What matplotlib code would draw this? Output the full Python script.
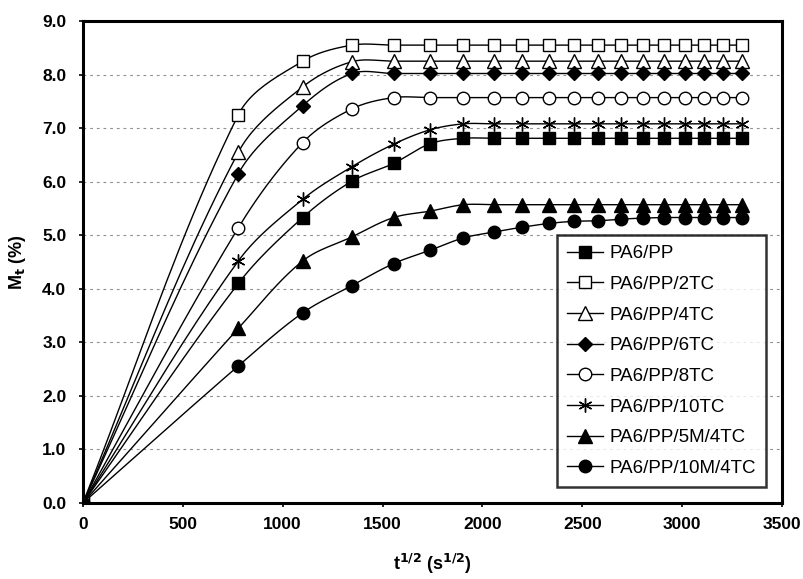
import matplotlib
matplotlib.use("Agg")
import matplotlib.pyplot as plt
import numpy as np

plt.rcParams['font.family'] = ['Liberation Sans', 'DejaVu Sans']

# square root of time (s^1/2), one point a week
t_sqrt = [0, 778, 1100, 1347, 1555, 1739, 1905, 2058, 2200, 2333,
          2459, 2579, 2694, 2804, 2910, 3012, 3111, 3207, 3299]

pa6_pp = [0, 4.10, 5.33, 6.01, 6.34, 6.71, 6.81, 6.81, 6.81, 6.81,
          6.81, 6.81, 6.81, 6.81, 6.81, 6.81, 6.81, 6.81, 6.81]
pa6_pp_2tc = [0, 7.25, 8.25, 8.55, 8.55, 8.55, 8.55, 8.55, 8.55, 8.55,
              8.55, 8.55, 8.55, 8.55, 8.55, 8.55, 8.55, 8.55, 8.55]
pa6_pp_4tc = [0, 6.55, 7.77, 8.24, 8.25, 8.25, 8.25, 8.25, 8.25, 8.25,
              8.25, 8.25, 8.25, 8.25, 8.25, 8.25, 8.25, 8.25, 8.25]
pa6_pp_6tc = [0, 6.15, 7.42, 8.02, 8.02, 8.02, 8.02, 8.02, 8.02, 8.02,
              8.02, 8.02, 8.02, 8.02, 8.02, 8.02, 8.02, 8.02, 8.02]
pa6_pp_8tc = [0, 5.14, 6.73, 7.36, 7.57, 7.57, 7.57, 7.57, 7.57, 7.57,
              7.57, 7.57, 7.57, 7.57, 7.57, 7.57, 7.57, 7.57, 7.57]
pa6_pp_10tc = [0, 4.52, 5.67, 6.28, 6.70, 6.97, 7.08, 7.08, 7.08, 7.08,
               7.08, 7.08, 7.08, 7.08, 7.08, 7.08, 7.08, 7.08, 7.08]
pa6_pp_5m4tc = [0, 3.26, 4.52, 4.97, 5.33, 5.45, 5.57, 5.57, 5.57, 5.57,
                5.57, 5.57, 5.57, 5.57, 5.57, 5.57, 5.57, 5.57, 5.57]
pa6_pp_10m4tc = [0, 2.56, 3.55, 4.06, 4.47, 4.72, 4.95, 5.06, 5.15, 5.22,
                 5.26, 5.27, 5.30, 5.32, 5.33, 5.33, 5.33, 5.33, 5.33]

labels = ['PA6/PP', 'PA6/PP/2TC', 'PA6/PP/4TC', 'PA6/PP/6TC',
          'PA6/PP/8TC', 'PA6/PP/10TC', 'PA6/PP/5M/4TC', 'PA6/PP/10M/4TC']
series = [pa6_pp, pa6_pp_2tc, pa6_pp_4tc, pa6_pp_6tc,
          pa6_pp_8tc, pa6_pp_10tc, pa6_pp_5m4tc, pa6_pp_10m4tc]

# marker, face colour, size
styles = [('s', 'black', 8.5),
          ('s', 'white', 8.5),
          ('^', 'white', 9.5),
          ('D', 'black', 7),
          ('o', 'white', 9),
          ((6, 2, 0), 'black', 10),
          ('^', 'black', 9.5),
          ('o', 'black', 9)]

XMAX, YMAX = 3500, 9.0
# pixels per data unit, so the smoothing is done in screen space
KX, KY = 699 / XMAX, 482 / YMAX


def smooth(x, y, n=24):
    # spreadsheet-style smoothed line: bezier segments, control points
    # along the neighbour chord, a third of the segment length away
    p = np.column_stack([np.asarray(x, float) * KX, np.asarray(y, float) * KY])
    m = len(p)
    tang = np.zeros_like(p)
    for i in range(m):
        a = p[max(i - 1, 0)]
        b = p[min(i + 1, m - 1)]
        d = b - a
        nrm = np.hypot(*d)
        tang[i] = d / nrm if nrm > 0 else 0
    s = np.linspace(0, 1, n)[:, None]
    out = []
    for i in range(m - 1):
        p0, p3 = p[i], p[i + 1]
        L = np.hypot(*(p3 - p0))
        c1 = p0 + tang[i] * L / 3
        c2 = p3 - tang[i + 1] * L / 3
        b = (1 - s) ** 3 * p0 + 3 * (1 - s) ** 2 * s * c1 \
            + 3 * (1 - s) * s ** 2 * c2 + s ** 3 * p3
        out.append(b)
    out = np.vstack(out)
    return out[:, 0] / KX, out[:, 1] / KY


fig = plt.figure(figsize=(8.04, 5.79), dpi=100)
ax = fig.add_axes([0.1032, 0.1313, 0.8694, 0.8324])

handles = []
for vals, lab, (m, fc, ms) in zip(series, labels, styles):
    sx, sy = smooth(t_sqrt, vals)
    ax.plot(sx, sy, color='black', lw=1.0, zorder=3)
    ax.plot(t_sqrt, vals, ls='none', marker=m, ms=ms, mfc=fc, mec='black',
            mew=1.0, zorder=4)
    h, = ax.plot([], [], color='black', lw=1.0, marker=m, ms=ms, mfc=fc,
                 mec='black', mew=1.0, label=lab)
    handles.append(h)

ax.set_xlim(0, XMAX)
ax.set_ylim(0, YMAX)
ax.set_xticks(np.arange(0, 3501, 500))
ax.set_yticks(np.arange(0, 9.01, 1.0))
ax.set_yticklabels([f'{v:.1f}' for v in np.arange(0, 9.01, 1.0)])
ax.tick_params(direction='out', length=3, width=1.2, labelsize=12.5)
ax.tick_params(axis='y', pad=9)
ax.tick_params(axis='x', pad=7)
for lab in ax.get_xticklabels() + ax.get_yticklabels():
    lab.set_fontweight('bold')

ax.yaxis.grid(True, color='#909090', lw=0.8, ls=(0, (2.5, 3.5)))
ax.set_axisbelow(True)
for sp in ax.spines.values():
    sp.set_linewidth(2.2)

ax.set_xlabel('t$^{\\mathbf{1/2}}$ (s$^{\\mathbf{1/2}}$)', fontsize=13,
              fontweight='bold')
ax.xaxis.set_label_coords(0.5, -0.102)
ax.set_ylabel('M$_{\\mathbf{t}}$ (%)', fontsize=13, fontweight='bold')
ax.yaxis.set_label_coords(-0.078, 0.5)

leg = ax.legend(handles=handles, loc='lower left',
                bbox_to_anchor=(0.678, 0.033), fontsize=13.5,
                frameon=True, fancybox=False, edgecolor='black',
                handlelength=1.9, handletextpad=0.35, labelspacing=0.72,
                borderpad=0.55, borderaxespad=0)
leg.get_frame().set_linewidth(1.8)
leg.set_zorder(5)

fig.savefig('out.png', dpi=100)
